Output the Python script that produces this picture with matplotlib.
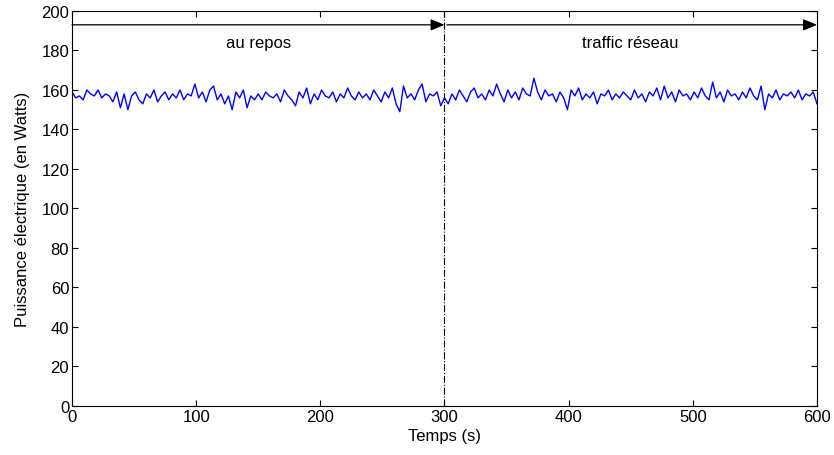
import numpy as np
import matplotlib
matplotlib.use('Agg')
import matplotlib.pyplot as plt

# power readings (W), one every 3 s from 0 to 600 s
time_step = 3
power = [
    159, 156, 157, 155, 160, 158, 157, 160, 156, 158,
    157, 154, 159, 151, 158, 150, 157, 159, 155, 153,
    158, 156, 160, 154, 157, 159, 155, 158, 156, 160,
    155, 158, 157, 163, 156, 159, 154, 160, 162, 155,
    158, 153, 157, 150, 159, 156, 160, 151, 157, 155,
    158, 155, 159, 157, 156, 158, 154, 160, 157, 155,
    152, 159, 156, 161, 153, 158, 155, 160, 157, 156,
    159, 154, 158, 156, 161, 157, 155, 159, 156, 158,
    155, 160, 157, 154, 159, 156, 161, 153, 149, 162,
    156, 158, 155, 160, 163, 154, 158, 157, 159, 152,
    156, 153, 158, 155, 160, 157, 154, 159, 161, 156,
    158, 155, 160, 157, 163, 158, 154, 160, 156, 159,
    155, 161, 158, 157, 166, 159, 155, 160, 157, 158,
    154, 159, 156, 150, 160, 157, 161, 155, 158, 156,
    159, 153, 158, 157, 160, 155, 158, 156, 159, 157,
    155, 160, 156, 158, 154, 159, 157, 161, 155, 162,
    156, 159, 154, 160, 157, 158, 155, 159, 156, 161,
    157, 155, 164, 156, 159, 154, 160, 157, 158, 155,
    159, 156, 161, 157, 155, 162, 150, 158, 156, 160,
    155, 158, 157, 159, 156, 160, 155, 158, 157, 159,
    153,
]
times = np.arange(len(power)) * time_step

phase_bounds = [0, 300, 600]
phase_labels = ['au repos', 'traffic réseau']

plt.rcParams.update({
    'font.family': 'Liberation Sans',
    'font.size': 12,
    'xtick.direction': 'in',
    'ytick.direction': 'in',
    'xtick.top': True,
    'ytick.right': True,
    'axes.linewidth': 0.8,
})

fig = plt.figure(figsize=(8.34, 4.56), dpi=100)
ax = fig.add_axes([0.0863, 0.1075, 0.8933, 0.8662])

ax.plot(times, power, color='#0000ff', linewidth=1.0)

# phase separator
ax.plot([phase_bounds[1], phase_bounds[1]], [0, 200], color='black',
        linestyle='-.', linewidth=0.8)

arrow_y = 193
for k, label in enumerate(phase_labels):
    x0 = phase_bounds[k] + (2 if k > 0 else 0)
    x1 = phase_bounds[k + 1]
    ax.annotate('', xy=(x1, arrow_y), xytext=(x0, arrow_y),
                arrowprops=dict(arrowstyle='-|>,head_length=0.6,head_width=0.25',
                                color='black', lw=0.9,
                                mutation_scale=14, shrinkA=0, shrinkB=0))
    ax.text((phase_bounds[k] + x1) / 2, 184, label, ha='center', va='center')

ax.set_xlim(0, 600)
ax.set_ylim(0, 200)
ax.set_xticks(np.arange(0, 601, 100))
ax.set_yticks(np.arange(0, 201, 20))
ax.tick_params(length=4, width=0.8, pad=2)
ax.set_xlabel('Temps (s)', labelpad=3)
ax.set_ylabel('Puissance électrique (en Watts)', labelpad=8)

fig.savefig('out.png', dpi=100)
